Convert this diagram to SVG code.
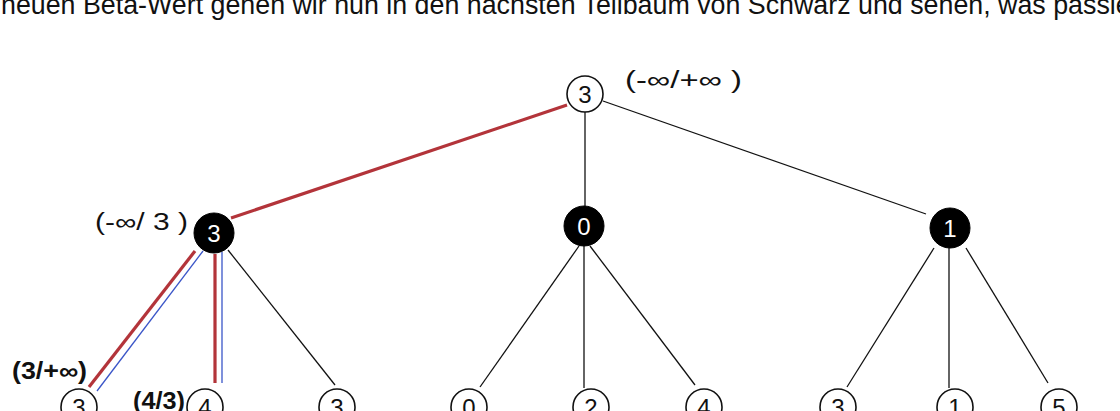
<svg xmlns="http://www.w3.org/2000/svg" width="1120" height="411" viewBox="0 0 1120 411">
<style>
.hdr{font-family:"Liberation Sans",Arial,sans-serif;font-size:26.8px;fill:#111}
.lbl{font-family:"Liberation Sans",Arial,sans-serif;font-size:23px;fill:#111}
.lblb{font-family:"Liberation Sans",Arial,sans-serif;font-size:23px;font-weight:bold;fill:#111}
.wn{fill:#fff;stroke:#111;stroke-width:1.6}
.bn{fill:#000;stroke:#000;stroke-width:1}
.wd{font-family:"Liberation Sans",Arial,sans-serif;font-size:24px;fill:#111;text-anchor:middle}
.bd{font-family:"Liberation Sans",Arial,sans-serif;font-size:24px;fill:#fff;text-anchor:middle}
.e{stroke:#111;stroke-width:1.3;fill:none}
.r{stroke:#b3343a;stroke-width:3.2;fill:none}
.b{stroke:#3a55c8;stroke-width:1.3;fill:none}
</style>
<rect width="1120" height="411" fill="#fff"/>
<text class="hdr" x="1" y="14">neuen Beta-Wert gehen wir nun in den nächsten Teilbaum von Schwarz und sehen, was passiert</text>
<g id="connectors">
<line class="r" x1="567" y1="105" x2="231" y2="218"/>
<line class="e" x1="585" y1="112" x2="585" y2="207"/>
<line class="e" x1="603" y1="101" x2="926" y2="214"/>
<line class="r" x1="195" y1="251" x2="89" y2="387"/>
<line class="b" x1="203" y1="251" x2="97" y2="391"/>
<line class="r" x1="215" y1="254" x2="215" y2="383"/>
<line class="b" x1="222" y1="252" x2="222" y2="383"/>
<line class="e" x1="228" y1="250" x2="335" y2="385"/>
<line class="e" x1="579" y1="246" x2="480" y2="387"/>
<line class="e" x1="584" y1="246" x2="584" y2="388"/>
<line class="e" x1="590" y1="246" x2="695" y2="385"/>
<line class="e" x1="934" y1="248" x2="847" y2="387"/>
<line class="e" x1="949" y1="248" x2="949" y2="388"/>
<line class="e" x1="966" y1="248" x2="1048" y2="383"/>
</g>
<g id="root"><circle class="wn" cx="585" cy="94" r="18"/><text class="wd" x="585" y="103">3</text></g>
<g id="root-label"><text class="lbl" x="625" y="88" textLength="117" lengthAdjust="spacingAndGlyphs">(-∞/+∞ )</text></g>
<g id="b1"><circle class="bn" cx="214" cy="233" r="20"/><text class="bd" x="214" y="242">3</text></g>
<g id="b1-label"><text class="lbl" x="95" y="230" textLength="93" lengthAdjust="spacingAndGlyphs">(-∞/ 3 )</text></g>
<g id="b2"><circle class="bn" cx="584" cy="226" r="20"/><text class="bd" x="584" y="235">0</text></g>
<g id="b3"><circle class="bn" cx="950" cy="228" r="20"/><text class="bd" x="950" y="237">1</text></g>
<g id="l1"><circle class="wn" cx="79" cy="407" r="18"/><text class="wd" x="79" y="416">3</text></g>
<g id="l1-label"><text class="lblb" x="12" y="379" textLength="75" lengthAdjust="spacingAndGlyphs">(3/+∞)</text></g>
<g id="l2"><circle class="wn" cx="205" cy="407" r="18"/><text class="wd" x="205" y="416">4</text></g>
<g id="l2-label"><text class="lblb" x="133" y="409" textLength="52" lengthAdjust="spacingAndGlyphs">(4/3)</text></g>
<g id="l3"><circle class="wn" cx="337" cy="407" r="18"/><text class="wd" x="337" y="416">3</text></g>
<g id="l4"><circle class="wn" cx="469" cy="407" r="18"/><text class="wd" x="469" y="416">0</text></g>
<g id="l5"><circle class="wn" cx="591" cy="407" r="18"/><text class="wd" x="591" y="416">2</text></g>
<g id="l6"><circle class="wn" cx="704" cy="407" r="18"/><text class="wd" x="704" y="416">4</text></g>
<g id="l7"><circle class="wn" cx="838" cy="407" r="18"/><text class="wd" x="838" y="416">3</text></g>
<g id="l8"><circle class="wn" cx="955" cy="407" r="18"/><text class="wd" x="955" y="416">1</text></g>
<g id="l9"><circle class="wn" cx="1059" cy="407" r="18"/><text class="wd" x="1059" y="416">5</text></g>
</svg>
